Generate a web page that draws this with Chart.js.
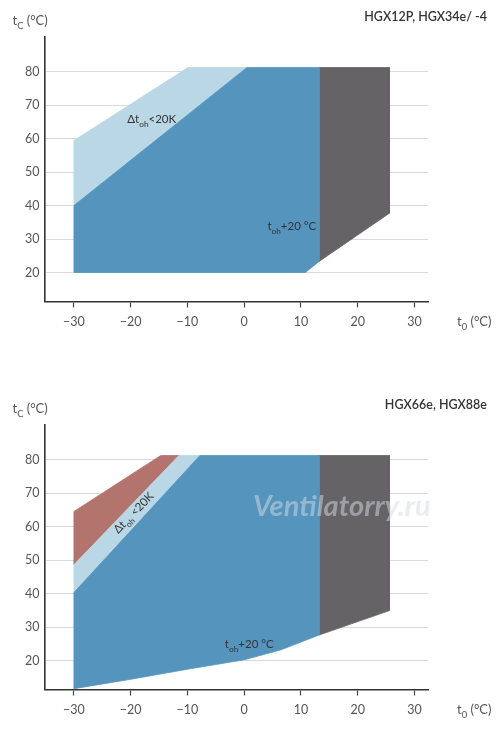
<!DOCTYPE html>
<html><head><meta charset="utf-8">
<script src="https://cdn.jsdelivr.net/npm/chart.js@4.4.1/dist/chart.umd.min.js"></script>
<style>
html,body{margin:0;padding:0;background:#fff;}
#wrap{position:relative;width:500px;height:736px;overflow:hidden;}
canvas{position:absolute;left:0;}
#c1{top:0}
#c2{top:388px}
</style></head><body>
<div id="wrap"><canvas id="c1" width="500" height="348"></canvas><canvas id="c2" width="500" height="348"></canvas></div>
<script>
// ---- data ----
const xTicks = [-30, -20, -10, 0, 10, 20, 30];
const xTickLabels = ['\u221230', '\u221220', '\u221210', '0', '10', '20', '30'];
const yTicks = [20, 30, 40, 50, 60, 70, 80];
const yTickLabels = ['20', '30', '40', '50', '60', '70', '80'];

const topTitle = 'HGX12P, HGX34e/ -4';
const bottomTitle = 'HGX66e, HGX88e';

// top chart (HGX12P, HGX34e/-4): envelope regions, t0 (x) and tc (y)
const top_light_t0 = [-30, -30, -9.9, 0.5];
const top_light_tc = [40, 59.4, 81.2, 81.2];
const top_blue_t0 = [-30, -30, 0.5, 13.2, 13.2, 10.8];
const top_blue_tc = [20, 40, 81.2, 81.2, 23.3, 20];
const top_gray_t0 = [13.2, 25.6, 25.6, 13.2];
const top_gray_tc = [81.2, 81.2, 37.7, 23.3];

// bottom chart (HGX66e, HGX88e)
const bot_red_t0 = [-30, -30, -14.7, -11.5];
const bot_red_tc = [48.6, 64.5, 81.2, 81.2];
const bot_light_t0 = [-30, -30, -11.5, -7.8];
const bot_light_tc = [40.3, 48.6, 81.2, 81.2];
const bot_blue_t0 = [-30, -30, -7.8, 13.2, 13.2, 6.5, 0, -10, -20];
const bot_blue_tc = [11.6, 40.3, 81.2, 81.2, 27.6, 23.2, 20.2, 17.4, 14.4];
const bot_gray_t0 = [13.2, 25.6, 25.6, 13.2];
const bot_gray_tc = [81.2, 81.2, 34.9, 27.6];

// ---- styling ----
const FONT = 'Lato, "Open Sans", sans-serif';
const C_BLUE = '#5595bd';
const C_LIGHT = '#bad7e5';
const C_GRAY = '#666367';
const C_RED = '#b3746e';

function pts(xs, ys) {
  const p = xs.map((x, i) => ({x: x, y: ys[i]}));
  p.push({x: xs[0], y: ys[0]});
  return p;
}
function region(xs, ys, color) {
  return {
    data: pts(xs, ys), showLine: true, fill: 'shape',
    backgroundColor: color, borderColor: color, borderWidth: 0.8,
    pointRadius: 0, pointHoverRadius: 0, tension: 0
  };
}

function rich(ctx, x, y, parts, size, color, align) {
  ctx.save();
  ctx.fillStyle = color;
  ctx.textBaseline = 'alphabetic';
  ctx.textAlign = 'left';
  const subSize = size * 0.72;
  let w = 0;
  parts.forEach(p => {
    ctx.font = (p[1] ? subSize : size) + 'px ' + FONT;
    w += ctx.measureText(p[0]).width;
  });
  let cx = align === 'right' ? x - w : (align === 'center' ? x - w / 2 : x);
  parts.forEach(p => {
    ctx.font = (p[1] ? subSize : size) + 'px ' + FONT;
    ctx.fillText(p[0], cx, y + (p[1] ? size * 0.32 : 0));
    cx += ctx.measureText(p[0]).width;
  });
  ctx.restore();
}

const textPlugin = {
  id: 'texts',
  afterDraw(chart, args, opts) {
    const ctx = chart.ctx;
    const xs = chart.scales.x, ys = chart.scales.y;
    // header title
    ctx.save();
    ctx.font = '600 12.5px ' + FONT;
    ctx.fillStyle = '#333';
    ctx.textAlign = 'right';
    ctx.textBaseline = 'alphabetic';
    ctx.fillText(opts.title, 487, 20.5);
    ctx.restore();
    // axis titles
    rich(ctx, 12.5, 24.5, [['t', 0], ['C', 1], [' (\u00b0C)', 0]], 13, '#555', 'left');
    rich(ctx, 457, 325.5, [['t', 0], ['0', 1], [' (\u00b0C)', 0]], 13, '#555', 'left');
    // region labels
    (opts.labels || []).forEach(l => {
      const px = xs.getPixelForValue(l.t0), py = ys.getPixelForValue(l.tc);
      ctx.save();
      ctx.translate(px, py);
      if (l.rot) ctx.rotate(l.rot * Math.PI / 180);
      rich(ctx, 0, 0, l.parts, 11.5, '#333', l.align || 'left');
      ctx.restore();
    });
    if (opts.watermark) {
      const w = opts.watermark;
      ctx.save();
      ctx.font = 'italic bold 29px ' + FONT;
      ctx.textAlign = 'center';
      ctx.textBaseline = 'middle';
      ctx.fillStyle = 'rgba(212,220,228,0.5)';
      ctx.fillText(w.text, xs.getPixelForValue(w.t0), ys.getPixelForValue(w.tc));
      ctx.restore();
    }
  }
};

function makeOptions(pluginOpts) {
  return {
    responsive: false,
    animation: false,
    layout: {padding: {top: 36.7, right: 72, left: 0, bottom: 0}},
    plugins: {legend: {display: false}, tooltip: {enabled: false}, texts: pluginOpts},
    events: [],
    scales: {
      x: {
        type: 'linear', min: -35.1, max: 32.4,
        afterBuildTicks: s => { s.ticks = xTicks.map(v => ({value: v})); },
        afterFit: s => { s.height = 46.5; },
        grid: {drawOnChartArea: false, drawTicks: true, tickLength: 6, tickColor: '#444', tickWidth: 1.2},
        border: {color: '#333', width: 1.6},
        ticks: {padding: 7, color: '#555', font: {family: FONT, size: 12.5}, maxRotation: 0,
                callback: (v, i) => xTickLabels[i]}
      },
      y: {
        type: 'linear', min: 11.35, max: 90.4, z: 1,
        afterBuildTicks: s => { s.ticks = yTicks.map(v => ({value: v})); },
        afterFit: s => { s.width = 45; },
        grid: {drawTicks: false, color: 'rgba(185,185,185,0.55)', lineWidth: 1},
        border: {color: '#333', width: 1.6},
        ticks: {padding: 5.5, color: '#555', font: {family: FONT, size: 12.5},
                callback: (v, i) => yTickLabels[i]}
      }
    }
  };
}

new Chart(document.getElementById('c1'), {
  type: 'scatter',
  data: {datasets: [
    region(top_blue_t0, top_blue_tc, C_BLUE),
    region(top_light_t0, top_light_tc, C_LIGHT),
    region(top_gray_t0, top_gray_tc, C_GRAY)
  ]},
  options: makeOptions({
    title: topTitle,
    labels: [
      {t0: -20.6, tc: 64.6, parts: [['\u0394t', 0], ['oh', 1], ['<20K', 0]]},
      {t0: 4.1, tc: 32.7, parts: [['t', 0], ['oh', 1], ['+20 \u00b0C', 0]]}
    ]
  }),
  plugins: [textPlugin]
});

new Chart(document.getElementById('c2'), {
  type: 'scatter',
  data: {datasets: [
    region(bot_blue_t0, bot_blue_tc, C_BLUE),
    region(bot_light_t0, bot_light_tc, C_LIGHT),
    region(bot_red_t0, bot_red_tc, C_RED),
    region(bot_gray_t0, bot_gray_tc, C_GRAY)
  ]},
  options: makeOptions({
    title: bottomTitle,
    labels: [
      {t0: -19.0, tc: 63.3, rot: -46, align: 'center', parts: [['\u0394t', 0], ['oh', 1], [' <20K', 0]]},
      {t0: -3.4, tc: 23.7, parts: [['t', 0], ['oh', 1], ['+20 \u00b0C', 0]]}
    ],
    watermark: {text: 'Ventilatorry.ru', t0: 17.2, tc: 66.0}
  }),
  plugins: [textPlugin]
});
</script>
</body></html>
